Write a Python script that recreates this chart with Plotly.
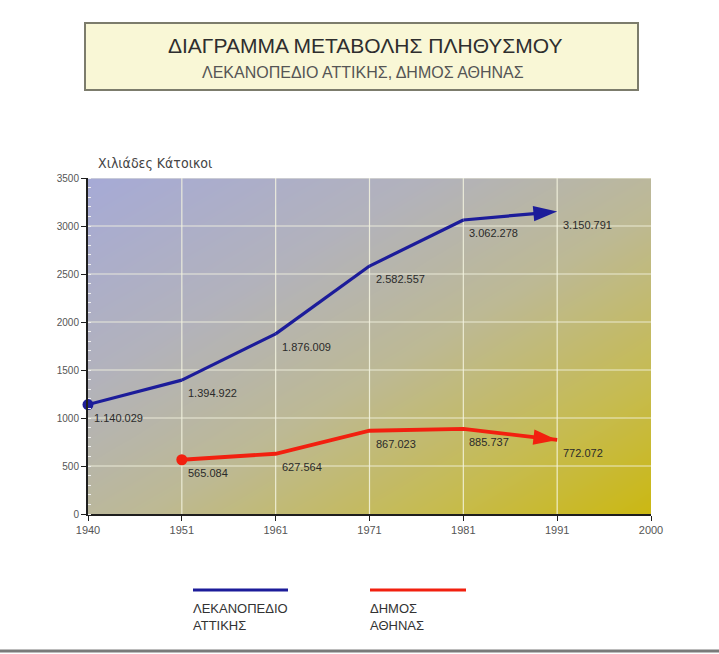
import numpy as np
import plotly.graph_objects as go

# ---------------- data ----------------
tick_years = [1940, 1951, 1961, 1971, 1981, 1991, 2000]
tick_labels = ["1940", "1951", "1961", "1971", "1981", "1991", "2000"]

basin_years = [1940, 1951, 1961, 1971, 1981, 1991]
basin_pop = [1140.029, 1394.922, 1876.009, 2582.557, 3062.278, 3150.791]   # thousands

athens_years = [1951, 1961, 1971, 1981, 1991]
athens_pop = [565.084, 627.564, 867.023, 885.737, 772.072]                 # thousands

series_names = ["ΛΕΚΑΝΟΠΕΔΙΟ ΑΤΤΙΚΗΣ", "ΔΗΜΟΣ ΑΘΗΝΑΣ"]
y_ticks = [0, 500, 1000, 1500, 2000, 2500, 3000, 3500]

title_text = "ΔΙΑΓΡΑΜΜΑ ΜΕΤΑΒΟΛΗΣ ΠΛΗΘΥΣΜΟΥ"
subtitle_text = "ΛΕΚΑΝΟΠΕΔΙΟ ΑΤΤΙΚΗΣ, ΔΗΜΟΣ ΑΘΗΝΑΣ"
y_title = "Χιλιάδες Κάτοικοι"

# ---------------- helpers ----------------
tick_idx = list(range(len(tick_years)))


def xpos(years):
    # ordinal axis: census ticks are drawn equally spaced
    return list(np.interp(years, tick_years, tick_idx))


def fmt(v):
    return f"{int(round(v * 1000)):,}".replace(",", ".")


W, H = 719, 654
ML, MR, MT, MB = 88, 68, 178, 140
PW, PH = W - ML - MR, H - MT - MB


def px(x):
    return (x - ML) / PW


def py(y):
    return (H - MB - y) / PH


BLUE = "#1c1c9a"
RED = "#f2200f"
TXT = "#2a2a2a"

fig = go.Figure()

# background gradient (diagonal: lavender top-left -> olive yellow bottom-right)
gx = np.linspace(-0.2, 6.2, 40)
gy = np.linspace(-100, 3600, 40)
GX, GY = np.meshgrid(gx, gy)
Z = GX / 6.0 + (1 - GY / 3500.0)
fig.add_trace(go.Heatmap(
    x=gx, y=gy, z=Z, zsmooth="best", showscale=False, hoverinfo="skip",
    zmin=0, zmax=2,
    colorscale=[[0.0, "#a6aad6"], [0.3, "#b2b2bc"], [0.55, "#bdb994"],
                [0.8, "#c6bb50"], [1.0, "#cbb812"]],
))

# grid lines (drawn as a trace so they sit above the gradient)
gxs, gys = [], []
for i in tick_idx[1:-1]:
    gxs += [i, i, None]
    gys += [0, 3500, None]
for v in y_ticks[1:]:
    gxs += [0, 6, None]
    gys += [v, v, None]
fig.add_trace(go.Scatter(x=gxs, y=gys, mode="lines",
                         line=dict(color="rgba(245,245,225,0.85)", width=1.2),
                         hoverinfo="skip", showlegend=False))

# data series
for years, vals, color, width, name in [(basin_years, basin_pop, BLUE, 3.2, series_names[0]),
                                        (athens_years, athens_pop, RED, 3.8, series_names[1])]:
    xs = xpos(years)
    n = len(xs)
    # line with an arrowhead at the last census
    fig.add_trace(go.Scatter(
        x=xs, y=vals, mode="lines+markers", name=name, showlegend=False,
        cliponaxis=False,
        line=dict(color=color, width=width),
        marker=dict(symbol="arrow", size=[0] * (n - 1) + [25], opacity=1,
                    angleref="previous", color=color, line=dict(width=0)),
    ))
    # dot at the first census
    fig.add_trace(go.Scatter(
        x=xs[:1], y=vals[:1], mode="markers", showlegend=False, cliponaxis=False,
        marker=dict(symbol="circle", size=11, color=color, opacity=1, line=dict(width=0)),
    ))
    for xv, yv in zip(xs, vals):
        fig.add_annotation(x=xv, y=yv, text=fmt(yv), showarrow=False,
                           xanchor="left", yanchor="top", xshift=4, yshift=-5,
                           font=dict(family="Liberation Sans, Arial", size=11, color=TXT))

# axes
fig.update_xaxes(range=[0, 6], tickvals=tick_idx, ticktext=tick_labels,
                 showgrid=False, zeroline=False, showline=True, linecolor="#1e1e1e",
                 linewidth=2, ticks="outside", ticklen=5, tickcolor="#1e1e1e",
                 tickfont=dict(family="Liberation Sans, Arial", size=11, color="#555"),
                 fixedrange=True)
fig.update_yaxes(range=[0, 3500], tickvals=y_ticks,
                 showgrid=False, zeroline=False, showline=True, linecolor="#1e1e1e",
                 linewidth=2, ticks="outside", ticklen=5, tickcolor="#1e1e1e",
                 tickfont=dict(family="Liberation Sans, Arial", size=10, color="#555"),
                 minor=dict(ticks="inside", dtick=100, ticklen=3, tickcolor="#f0f0f0",
                            showgrid=False),
                 fixedrange=True)

shapes = []
annots = []

# title box
shapes.append(dict(type="rect", xref="paper", yref="paper",
                   x0=px(85), x1=px(638), y0=py(90), y1=py(23),
                   fillcolor="#f9f7d6", line=dict(color="#7c7c6c", width=2), layer="below"))
annots.append(dict(xref="paper", yref="paper", x=px(365), y=py(45), text=title_text,
                   showarrow=False, xanchor="center", yanchor="middle",
                   font=dict(family="Liberation Sans, Arial", size=21, color="#2e2e2e")))
annots.append(dict(xref="paper", yref="paper", x=px(363), y=py(72), text=subtitle_text,
                   showarrow=False, xanchor="center", yanchor="middle",
                   font=dict(family="Liberation Sans, Arial", size=16, color="#555")))

# y axis title
annots.append(dict(xref="paper", yref="paper", x=px(96), y=py(163), text=y_title,
                   showarrow=False, xanchor="left", yanchor="middle",
                   font=dict(family="Liberation Sans Narrow, DejaVu Sans Condensed, Arial",
                             size=14, color="#444")))

# custom legend
for (x0, x1), color, name in [((193, 288), BLUE, series_names[0]),
                              ((370, 466), RED, series_names[1])]:
    shapes.append(dict(type="line", xref="paper", yref="paper",
                       x0=px(x0), x1=px(x1), y0=py(590), y1=py(590),
                       line=dict(color=color, width=3)))
    annots.append(dict(xref="paper", yref="paper", x=px(x0 - 2), y=py(599),
                       text=name.replace(" ", "<br>"), showarrow=False,
                       xanchor="left", yanchor="top", align="left",
                       font=dict(family="Liberation Sans, Arial", size=13, color="#333")))

# bottom rule
shapes.append(dict(type="line", xref="paper", yref="paper",
                   x0=px(0), x1=px(719), y0=py(651), y1=py(651),
                   line=dict(color="#7a7a7a", width=3)))

fig.update_layout(
    width=W, height=H,
    margin=dict(l=ML, r=MR, t=MT, b=MB),
    paper_bgcolor="white", plot_bgcolor="#b8b6a8",
    shapes=shapes, annotations=list(fig.layout.annotations) + annots,
    showlegend=False,
)

fig.write_html("out.html")
